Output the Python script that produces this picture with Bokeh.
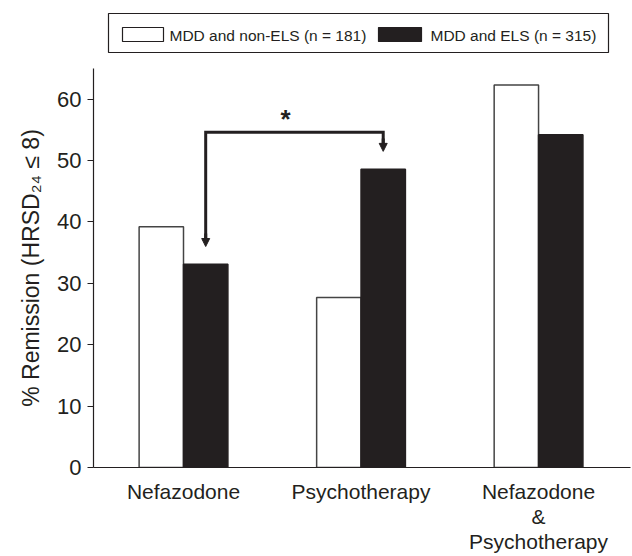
from bokeh.plotting import figure
from bokeh.models import Range1d, FixedTicker, Arrow, NormalHead
from bokeh.layouts import column
from bokeh.core.properties import value
from bokeh.embed import file_html
from bokeh.resources import INLINE

categories = ["Nefazodone", "Psychotherapy", "Nefazodone\n&\nPsychotherapy"]
non_els = [39.2, 27.7, 62.3]
els = [33.1, 48.6, 54.2]
series_labels = ["MDD and non-ELS (n = 181)", "MDD and ELS (n = 315)"]
y_ticks = [0, 10, 20, 30, 40, 50, 60]

FONT = "Liberation Sans"
INK = "#231f20"
W = 632
FL, FR = 93, 2  # frame borders shared by both stacked figures

# ---------- legend strip (pixel-mapped helper figure) ----------
LH = 68
leg = figure(width=W, height=LH, output_backend="svg", toolbar_location=None,
             x_range=Range1d(FL, W - FR), y_range=Range1d(LH, 0),
             min_border=0, min_border_left=FL, min_border_right=FR,
             x_axis_type=None, y_axis_type=None)
leg.outline_line_color = None
leg.xgrid.visible = False
leg.ygrid.visible = False
leg.quad(left=[108], right=[608], top=[13], bottom=[52], fill_color="white",
         line_color=INK, line_width=1.2)
leg.quad(left=[122], right=[163], top=[27], bottom=[41], fill_color="white",
         line_color=INK, line_width=1.2)
leg.quad(left=[378], right=[421], top=[27], bottom=[41], fill_color=INK,
         line_color=INK, line_width=1.2)
leg.text(x=[169, 430], y=[34.5, 34.5], text=series_labels, text_font=value(FONT),
         text_font_size="15.5px", text_color=INK, text_baseline="middle", text_align="left")

# ---------- main chart ----------
centers = [1, 2, 3]
bw = 0.25
x_white = [c - bw / 2 for c in centers]
x_black = [c + bw / 2 for c in centers]

p = figure(width=W, height=556 - LH, output_backend="svg", toolbar_location=None,
           x_range=Range1d(0.493, 3.518), y_range=Range1d(0, 65),
           min_border_left=FL, min_border_right=FR, min_border_top=0, min_border_bottom=89)
p.outline_line_color = None
p.xgrid.visible = False
p.ygrid.visible = False

r_white = p.vbar(x=x_white, top=non_els, width=bw, fill_color="white",
                 line_color="#444444", line_width=1.5)
r_black = p.vbar(x=x_black, top=els, width=bw, fill_color=INK,
                 line_color=INK, line_width=1.5)

# significance bracket between ELS bars of first two groups
top_y = max(els[0], els[1]) + 6
xl, xr = x_black[0], x_black[1]
p.line(x=[xl, xl, xr, xr], y=[els[0] + 4, top_y, top_y, els[1] + 4], line_width=3,
       line_color=INK, line_join="miter")
for xx, v in [(xl, els[0]), (xr, els[1])]:
    p.add_layout(Arrow(end=NormalHead(size=8, fill_color=INK, line_color=INK, line_width=1),
                       x_start=xx, y_start=v + 5, x_end=xx, y_end=v + 2.9,
                       line_width=3, line_color=INK))
p.text(x=[(xl + xr) / 2 - 0.05], y=[top_y + 2.2], text=["*"], text_font=value(FONT),
       text_font_size="26px", text_font_style="bold", text_align="center",
       text_baseline="middle", text_color=INK)

# axes
p.yaxis.ticker = FixedTicker(ticks=y_ticks)
p.yaxis.minor_tick_line_color = None
p.yaxis.major_tick_out = 6
p.yaxis.major_tick_in = 0
p.yaxis.major_label_standoff = 6
p.yaxis.axis_label = "% Remission (HRSD₂₄ ≤ 8)"
p.yaxis.axis_label_standoff = 10
p.yaxis.axis_label_text_font_style = "normal"

p.xaxis.ticker = FixedTicker(ticks=centers)
p.xaxis.major_label_overrides = {c: lab for c, lab in zip(centers, categories)}
p.xaxis.minor_tick_line_color = None
p.xaxis.major_tick_out = 0
p.xaxis.major_tick_in = 0
p.xaxis.major_label_standoff = 12
p.xaxis.major_label_text_line_height = 1.1

for ax in (p.xaxis, p.yaxis):
    ax.axis_line_color = INK
    ax.axis_line_width = 1.2
    ax.major_label_text_font = FONT
    ax.major_label_text_color = INK
    ax.axis_label_text_font = FONT
    ax.axis_label_text_font_size = "23px"
    ax.axis_label_text_color = INK
p.yaxis.major_label_text_font_size = "22px"
p.xaxis.major_label_text_font_size = "21px"
p.yaxis.major_tick_line_color = INK
p.xaxis.major_tick_line_color = None

layout = column(leg, p, spacing=0)
open("out.html", "w").write(file_html(layout, INLINE))
